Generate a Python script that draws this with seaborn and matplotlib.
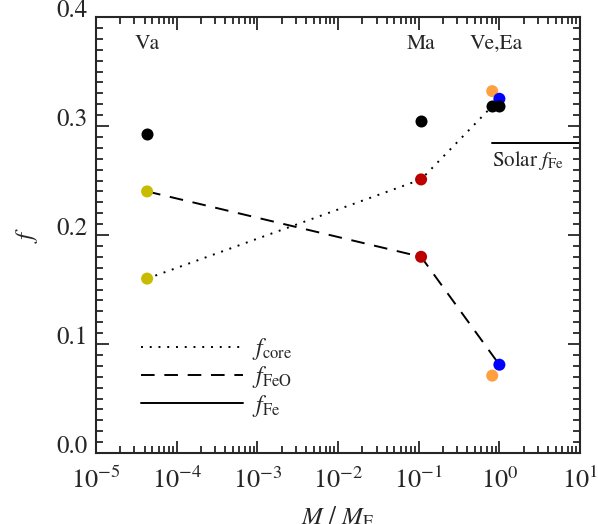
import numpy as np
import pandas as pd
import matplotlib
matplotlib.use("Agg")
import matplotlib.pyplot as plt
import matplotlib.ticker as mticker
import seaborn as sns

# planet masses in Earth masses
planets = ["Va", "Ma", "Ve", "Ea"]
mass = [4.3e-5, 0.107, 0.815, 1.0]

# total iron fraction (black dots)
f_fe = [0.293, 0.305, 0.318, 0.318]
# core fraction and FeO fraction per body
f_core = [0.160, 0.251, 0.332, 0.325]
f_feo = [0.240, 0.180, 0.071, 0.081]
point_colors = ["#c8bc00", "#bb0000", "#ffa040", "#0000ff"]

# the connecting lines go through Va, Ma, Ea
line_idx = [0, 1, 3]
solar_x = [0.8, 10.0]
solar_f = [0.2846, 0.2846]

x_decades = [1e-5, 1e-4, 1e-3, 1e-2, 1e-1, 1e0, 1e1]
label_y = 0.375

sns.set_style("ticks")
plt.rcParams["font.family"] = ["STIXGeneral", "DejaVu Sans"]
plt.rcParams["mathtext.fontset"] = "stix"
plt.rcParams["font.size"] = 15

fig = plt.figure(figsize=(5.98, 5.24), dpi=100)
ax = fig.add_axes([0.1605, 0.1355, 0.8095, 0.832])

lines = pd.DataFrame({
    "mass": [mass[i] for i in line_idx] * 2,
    "f": [f_core[i] for i in line_idx] + [f_feo[i] for i in line_idx],
    "kind": ["core"] * 3 + ["feo"] * 3,
})
sns.lineplot(data=lines[lines.kind == "core"], x="mass", y="f", ax=ax,
             color="black", linestyle=(0, (1, 3.5)), linewidth=1.4, label=r"$f_\mathrm{core}$")
sns.lineplot(data=lines[lines.kind == "feo"], x="mass", y="f", ax=ax,
             color="black", linestyle=(0, (7, 5)), linewidth=1.4, label=r"$f_\mathrm{FeO}$")
sns.lineplot(x=solar_x, y=solar_f, ax=ax, color="black", linewidth=1.4, label=r"$f_\mathrm{Fe}$")

pts = pd.DataFrame({
    "mass": mass * 2,
    "f": f_core + f_feo,
    "color": point_colors * 2,
})
ax.scatter(pts["mass"], pts["f"], c=pts["color"], s=75, linewidths=0, zorder=3)
sns.scatterplot(x=mass, y=f_fe, ax=ax, color="black", s=75, linewidth=0, zorder=4, legend=False)

ax.set_xscale("log")
ax.set_xlim(1e-5, 10)
ax.set_ylim(0, 0.4)

ax.text(mass[0], label_y, "Va", ha="center", va="center", fontsize=15.5)
ax.text(mass[1], label_y, "Ma", ha="center", va="center", fontsize=15.5)
ax.text(np.sqrt(mass[2] * mass[3]), label_y, "Ve,Ea", ha="center", va="center", fontsize=15.5)
ax.text(0.8, 0.268, r"Solar $f_\mathrm{Fe}$", ha="left", va="center", fontsize=15)

ax.set_xlabel(r"$M\ /\ M_\mathrm{E}$", fontsize=18, labelpad=8)
ax.set_ylabel(r"$f$", fontsize=18, labelpad=12)

ax.xaxis.set_major_locator(mticker.FixedLocator(x_decades))
ax.xaxis.set_major_formatter(mticker.LogFormatterSciNotation())
ax.xaxis.set_minor_locator(mticker.LogLocator(base=10, subs=np.arange(2, 10), numticks=20))
ax.xaxis.set_minor_formatter(mticker.NullFormatter())
ax.yaxis.set_major_locator(mticker.MultipleLocator(0.1))
ax.yaxis.set_minor_locator(mticker.MultipleLocator(0.01))
ax.yaxis.set_major_formatter(mticker.FormatStrFormatter("%.1f"))
ax.tick_params(which="both", direction="in", top=True, right=True, width=1.3, labelsize=18)
ax.tick_params(which="major", length=9)
ax.tick_params(axis="x", which="major", pad=11, labelsize=19)
ax.tick_params(axis="y", which="major", pad=6)
ax.tick_params(which="minor", length=5)
for lbl in ax.get_yticklabels():
    lbl.set_verticalalignment("baseline")
for s in ax.spines.values():
    s.set_linewidth(1.5)
    s.set_visible(True)

ax.legend(loc="lower left", bbox_to_anchor=(0.05, 0.03), frameon=False,
          handlelength=4.3, handletextpad=0.4, labelspacing=0.1, fontsize=17)

fig.savefig("out.png", dpi=100)
